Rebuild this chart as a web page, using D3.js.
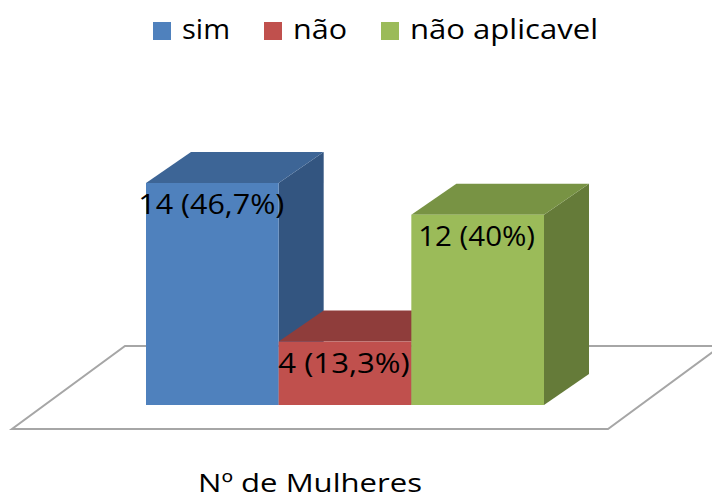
<!DOCTYPE html>
<html>
<head>
<meta charset="utf-8">
<script src="https://cdn.jsdelivr.net/npm/d3@7"></script>
<style>
  body { margin: 0; background: #fff; }
  svg { display: block; font-family: "Open Sans", "Noto Sans", sans-serif; }
</style>
</head>
<body>
<div id="chart"></div>
<script>
// data
var categories = ["sim", "não", "não aplicavel"];
var values = [14, 4, 12];
var labels = ["14 (46,7%)", "4 (13,3%)", "12 (40%)"];
var axisLabel = "Nº de Mulheres";

var frontColors = ["#4f81bd", "#c0504d", "#9bbb59"];
var topColors = ["#3d6596", "#8f3d3b", "#789344"];
var sideColors = ["#335580", "#7a3432", "#657b39"];

var width = 712, height = 501;

var svg = d3.select("#chart").append("svg")
    .attr("width", width)
    .attr("height", height);

// bar depth offset (3d look)
var dx = 45, dy = -31;

var x = d3.scaleBand()
    .domain(categories)
    .range([146, 544])
    .paddingInner(0)
    .paddingOuter(0);

var y = d3.scaleLinear()
    .domain([0, 14])
    .range([405, 183]);

// floor
var floorFront = [12, 608], floorY = 429, floorDx = 113, floorDy = -83;
svg.append("path")
    .attr("d", "M" + floorFront[0] + "," + floorY +
        " L" + floorFront[1] + "," + floorY +
        " L" + (floorFront[1] + floorDx) + "," + (floorY + floorDy) +
        " L" + (floorFront[0] + floorDx) + "," + (floorY + floorDy) + " Z")
    .attr("fill", "#fff")
    .attr("stroke", "#a6a6a6")
    .attr("stroke-width", 2);

var data = categories.map(function (c, i) {
    return { cat: c, value: values[i], label: labels[i], i: i };
});

// left to right, so each front face hides the side of the bar before it
var bars = svg.append("g").selectAll("g.bar")
    .data(data)
    .enter().append("g")
    .attr("class", "bar");

bars.each(function (d) {
    var g = d3.select(this);
    var x0 = x(d.cat), x1 = x0 + x.bandwidth();
    var yt = y(d.value), yb = y(0);
    // side
    g.append("path")
        .attr("d", "M" + x1 + "," + yt + " L" + (x1 + dx) + "," + (yt + dy) +
            " L" + (x1 + dx) + "," + (yb + dy) + " L" + x1 + "," + yb + " Z")
        .attr("fill", sideColors[d.i]);
    // top
    g.append("path")
        .attr("d", "M" + x0 + "," + yt + " L" + (x0 + dx) + "," + (yt + dy) +
            " L" + (x1 + dx) + "," + (yt + dy) + " L" + x1 + "," + yt + " Z")
        .attr("fill", topColors[d.i]);
    // front
    g.append("rect")
        .attr("x", x0)
        .attr("y", yt)
        .attr("width", x.bandwidth())
        .attr("height", yb - yt)
        .attr("fill", frontColors[d.i]);
});

// value labels
svg.append("g").selectAll("text")
    .data(data)
    .enter().append("text")
    .attr("x", function (d) { return x(d.cat) + x.bandwidth() / 2 - 1; })
    .attr("y", function (d) { return y(d.value) + 31; })
    .attr("text-anchor", "middle")
    .attr("font-size", 28)
    .attr("fill", "#000")
    .attr("textLength", function (d) { return d.label.length * 14.6; })
    .attr("lengthAdjust", "spacingAndGlyphs")
    .text(function (d) { return d.label; });

// category axis label
svg.append("text")
    .attr("x", (floorFront[0] + floorFront[1]) / 2)
    .attr("y", 492)
    .attr("text-anchor", "middle")
    .attr("font-size", 26)
    .attr("fill", "#000")
    .attr("textLength", 224)
    .attr("lengthAdjust", "spacingAndGlyphs")
    .text(axisLabel);

// legend
var legendX = [153, 264, 381];
var legendW = [48, 54, 188];
var legend = svg.append("g").selectAll("g")
    .data(data)
    .enter().append("g")
    .attr("transform", function (d, i) { return "translate(" + legendX[i] + ",22)"; });

legend.append("rect")
    .attr("width", 18)
    .attr("height", 18)
    .attr("fill", function (d) { return frontColors[d.i]; });

legend.append("text")
    .attr("x", 29)
    .attr("y", 17)
    .attr("font-size", 28)
    .attr("fill", "#000")
    .attr("textLength", function (d) { return legendW[d.i]; })
    .attr("lengthAdjust", "spacingAndGlyphs")
    .text(function (d) { return d.cat; });
</script>
</body>
</html>
